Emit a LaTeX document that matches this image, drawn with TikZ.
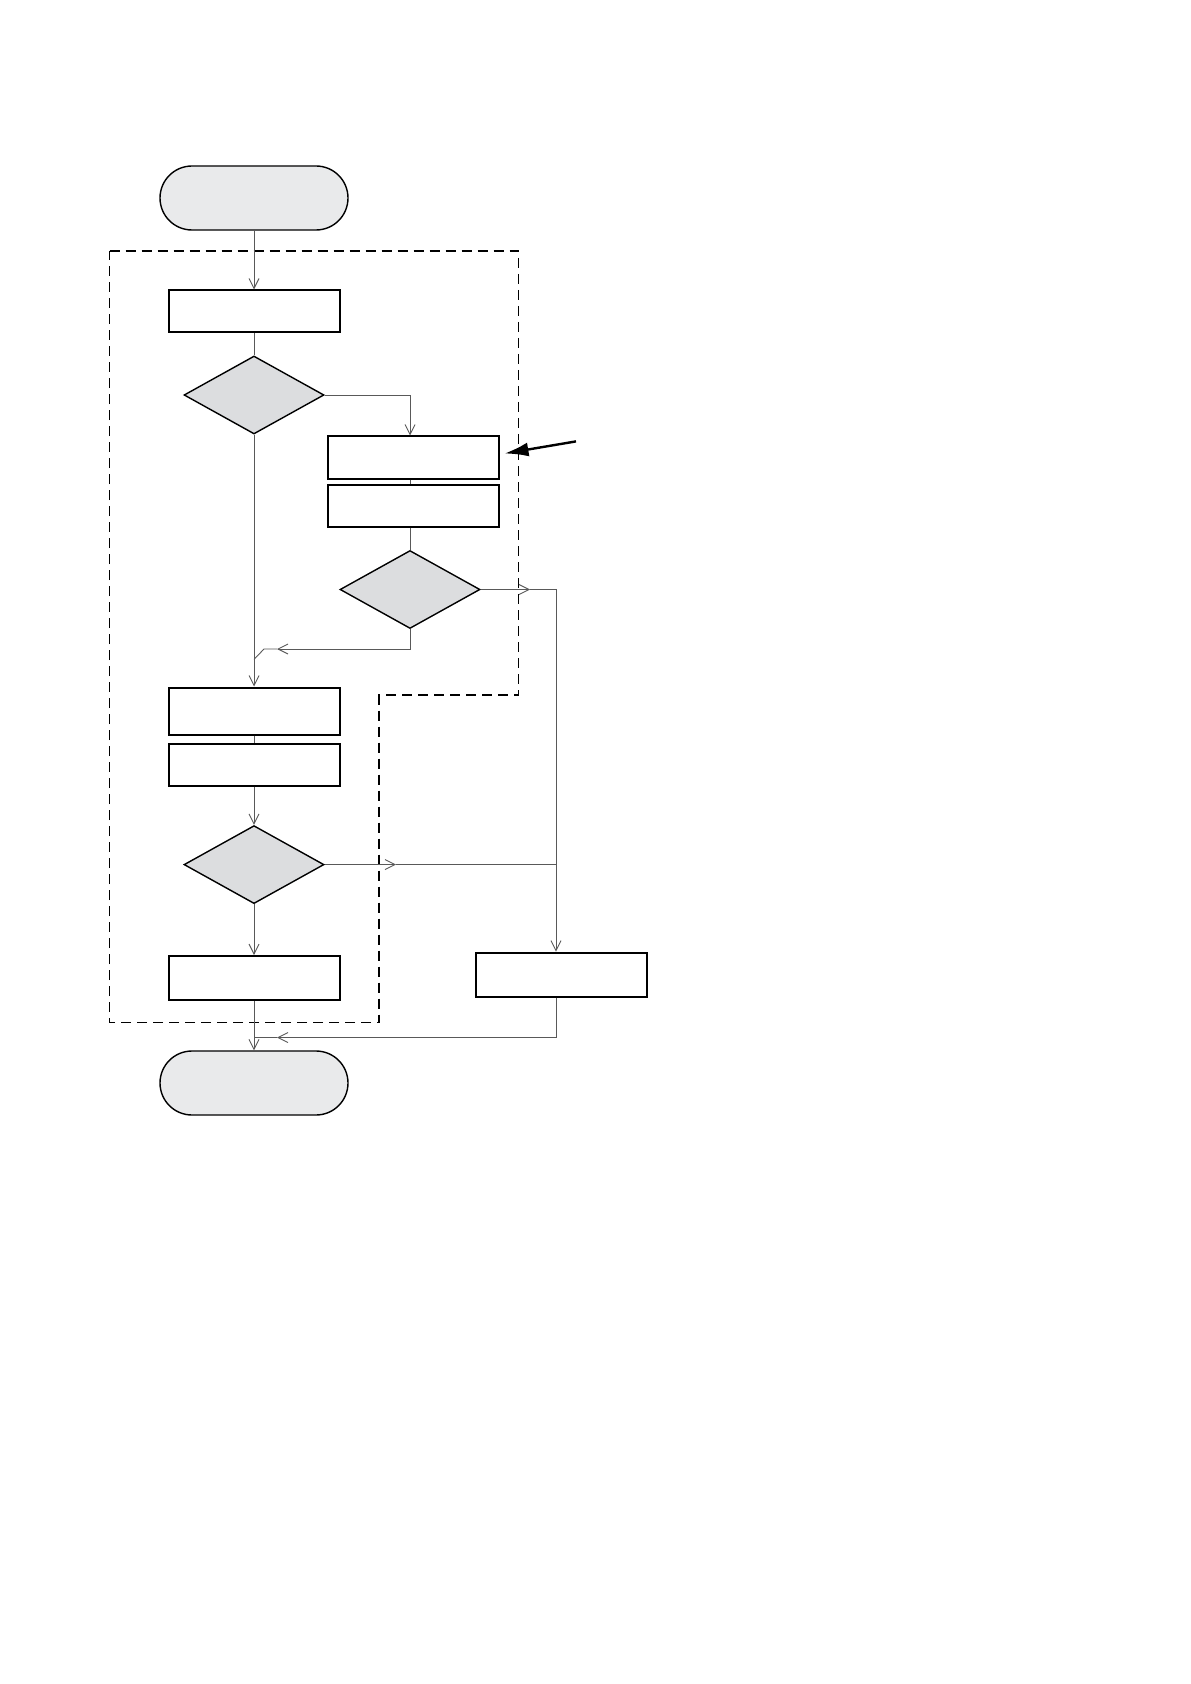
\documentclass[tikz,border=0pt]{standalone}
\usepackage{xcolor}
\usepackage{tikz}
\usetikzlibrary{shapes.geometric,shapes.misc,arrows.meta}
\definecolor{termgray}{HTML}{E9EAEB}
\definecolor{testgray}{HTML}{DCDDDF}

\begin{document}
\begin{tikzpicture}[x=0.5pt,y=-0.5pt,
        term/.style={rounded rectangle,draw,line width=0.7pt,fill=termgray,minimum width=94pt,minimum height=32pt,inner sep=0pt},
        proc/.style={rectangle,draw,line width=1pt,minimum width=85.5pt,minimum height=21pt,inner sep=0pt},
        test/.style={diamond,draw,line width=0.7pt,fill=testgray,minimum width=70pt,minimum height=39pt,inner sep=0pt},
        flow/.style={draw=black!65,line width=0.45pt},
        tip/.style={-{Straight Barb[length=5pt,width=5pt]}},
        frame/.style={line width=0.55pt,dash pattern=on 5pt off 3pt}]
        \useasboundingbox (0,0) rectangle (1190,1684);
        % Dashed frame
        \draw[frame] (109.5,251) -- (518.5,251) -- (518.5,695) -- (379,695) -- (379,1022.5) -- (109.5,1022.5) -- cycle;
        % Left column
        \node[term] (start) at (254,198) {};
        \node[proc] (b1) at (254,311.5) {};
        \node[test] (d1) at (254,395) {};
        \node[proc,minimum height=23.5pt] (b4) at (254,711) {};
        \node[proc] (b5) at (254,764.7) {};
        \node[test] (d3) at (254,864.6) {};
        \node[proc,minimum height=22pt] (b6) at (254,978) {};
        \node[term] (stop) at (254,1083) {};
        % Right column
        \node[proc] (b2) at (413,457.5) {};
        \node[proc] (b3) at (413,505.5) {};
        \node[test] (d2) at (410,589.5) {};
        \node[proc,minimum height=22pt] (b7) at (561,974.6) {};
        % Turning points
        \coordinate (rt) at (556,589.5);
        \coordinate (m2) at (530,589.5);
        \coordinate (m3) at (396,864.6);
        \coordinate (j1m) at (277,649);
        \coordinate (j1e) at (264,649);
        \coordinate (j1d) at (254,659.4);
        \coordinate (m4) at (277,1037.5);
        \coordinate (ptr) at (576,441.4);
        % Edges
        \draw[flow,tip] (start) -- (b1);
        \draw[flow] (b1) -- (d1);
        \draw[flow,tip] (d1.east) -| (b2.north -| d2);
        \draw[flow] (b2.south -| d2) -- (b3.north -| d2);
        \draw[flow] (b3.south -| d2) -- (d2.north);
        \draw[flow,tip] (d1.south) -- (b4.north);
        \draw[flow,tip] (d2.south) |- (j1m);
        \draw[flow] (j1m) -- (j1e) -- (j1d);
        \draw[flow,tip] (d2.east) -- (m2);
        \draw[flow,tip] (m2) -- (rt) -- (rt |- b7.north);
        \draw[flow] (b4) -- (b5);
        \draw[flow,tip] (b5) -- (d3);
        \draw[flow,tip] (d3.east) -- (m3);
        \draw[flow] (m3) -- (rt |- m3);
        \draw[flow,tip] (d3) -- (b6);
        \draw[flow,tip] (b6) -- (stop);
        \draw[flow,tip] (b7.south -| rt) |- (m4);
        \draw[flow] (m4) -- (stop.north |- m4);
        % Pointer
        \draw[line width=1.2pt,-{Latex[length=12pt,width=7pt]}] (ptr) -- ([shift={(5,-4)}]b2.east);
\end{tikzpicture}
\end{document}
